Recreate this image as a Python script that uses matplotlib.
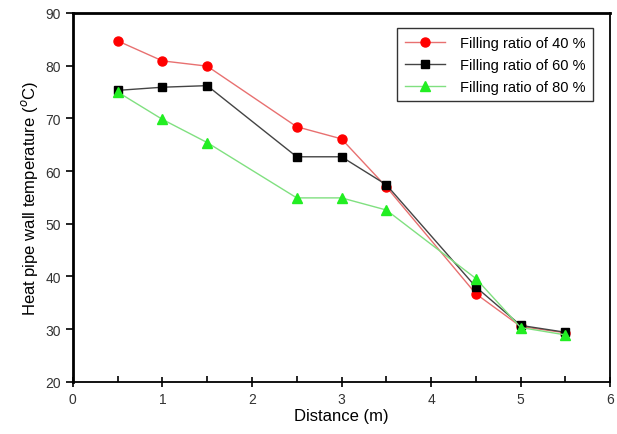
import matplotlib
matplotlib.use("Agg")
import matplotlib.pyplot as plt
from matplotlib.ticker import MultipleLocator

plt.rcParams["font.family"] = ["Liberation Sans", "DejaVu Sans"]

# Data
distance = [0.5, 1.0, 1.5, 2.5, 3.0, 3.5, 4.5, 5.0, 5.5]
temp_40 = [84.7, 80.9, 79.9, 68.4, 66.1, 57.0, 36.7, 30.5, 29.3]
temp_60 = [75.3, 75.9, 76.2, 62.7, 62.7, 57.4, 38.0, 30.7, 29.4]
temp_80 = [75.0, 69.8, 65.4, 54.9, 54.9, 52.6, 39.6, 30.3, 28.9]
labels = ["Filling ratio of 40 %", "Filling ratio of 60 %", "Filling ratio of 80 %"]

fig = plt.figure(figsize=(6.17, 4.35), dpi=100)
ax = fig.add_axes([0.118, 0.12, 0.871, 0.848])

ax.plot(distance, temp_40, color="#e87070", lw=1, marker="o", ms=6.5,
        mfc="red", mec="red", label=labels[0])
ax.plot(distance, temp_60, color="#444444", lw=1, marker="s", ms=6,
        mfc="black", mec="black", label=labels[1])
ax.plot(distance, temp_80, color="#80e080", lw=1, marker="^", ms=7.5,
        mfc="#22ee22", mec="#22ee22", label=labels[2])

ax.set_xlim(0, 6)
ax.set_ylim(20, 90)
ax.xaxis.set_major_locator(MultipleLocator(1))
ax.xaxis.set_minor_locator(MultipleLocator(0.5))
ax.yaxis.set_major_locator(MultipleLocator(10))
ax.tick_params(axis="x", which="major", direction="inout", length=7, width=1.2,
               labelsize=10, labelcolor="#333333")
ax.tick_params(axis="x", which="minor", direction="in", length=4, width=1.2)
ax.tick_params(axis="y", which="major", direction="out", length=5, width=1.2,
               labelsize=10, labelcolor="#333333")
for side in ["top", "left"]:
    ax.spines[side].set_linewidth(2)
for side in ["bottom", "right"]:
    ax.spines[side].set_linewidth(1.3)

ax.set_xlabel("Distance (m)", fontsize=12, labelpad=2)
ax.set_ylabel("Heat pipe wall temperature ($^{o}$C)", fontsize=12)

leg = ax.legend(loc="upper right", bbox_to_anchor=(0.981, 0.978), fontsize=10.5,
                fancybox=False, edgecolor="black", handlelength=2.8,
                borderpad=0.5, labelspacing=0.55, handletextpad=1.0)
leg.get_frame().set_linewidth(1)

fig.savefig("out.png", dpi=100)
